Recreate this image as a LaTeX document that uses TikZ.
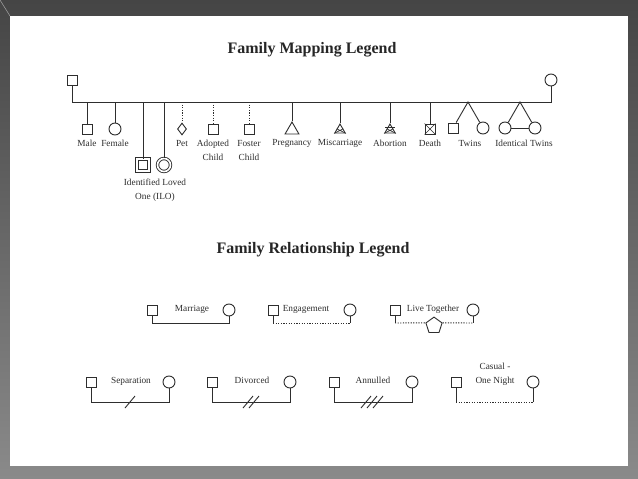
\documentclass[tikz,border=0pt]{standalone}
\usepackage{fontspec}
\setmainfont{Liberation Serif}
\usetikzlibrary{positioning,shapes.geometric,calc}

\definecolor{ink}{HTML}{2E2E2E}
\definecolor{frametop}{HTML}{454545}
\definecolor{framebot}{HTML}{8A8A8A}

\begin{document}
\begin{tikzpicture}[x=1pt, y=-1pt, color=ink, line width=0.9pt,
  male/.style={draw, rectangle, minimum size=10pt, inner sep=0pt},
  female/.style={draw, circle, minimum size=12pt, inner sep=0pt},
  tri/.style={draw, regular polygon, regular polygon sides=3, inner sep=0pt},
  lbl/.style={font=\fontsize{9.3}{14}\selectfont, align=center, inner sep=0pt},
  ttl/.style={text=black!85, font=\fontsize{16}{16}\selectfont\bfseries},
  dots/.style={dash pattern=on 1.2pt off 1.4pt}]
\useasboundingbox (0,0) rectangle (638,479);
\shade[top color=frametop, bottom color=framebot] (0,0) rectangle (638,479);
\draw[line width=0.5pt, gray!70] (0,0) -- (10,16);
\fill[white] (10,16) rectangle (628,466);

% family mapping legend
\node (title1) [ttl] at (312,50) {Family Mapping Legend};
\node (dad) [male] at (72,80) {};
\node (mom) [female] at (551,80) {};
\coordinate (bl) at (72,102);
\coordinate (br) at (551,102);
\coordinate (lab) at (0,143);
\draw (dad) -- (bl) -- (br) -- (mom);

\node (male) [male] at (87,129) {};
\node (female) [female] at (115,129) {};
\node (iloM) [male, double, double distance=1.6pt, minimum size=12pt] at (143,165) {};
\node (iloF) [female, double, double distance=1.6pt, minimum size=13pt] at (164,165) {};
\node (pet) [draw, diamond, minimum width=9pt, minimum height=12pt, inner sep=0pt] at (182,129) {};
\node (adopt) [male] at (213,129) {};
\node (foster) [male] at (249,129) {};
\node (preg) [tri, minimum size=16pt] at (292,130) {};
\node (misc) [tri, minimum size=12pt] at (340,130) {};
\node (abort) [tri, minimum size=12pt] at (390,130) {};
\node (death) [male] at (430,129) {};
\coordinate (tw) at (468,102);
\node (twM) [male] at (453,128) {};
\node (twF) [female] at (483,128) {};
\coordinate (id) at (520,102);
\node (idA) [female] at (505,128) {};
\node (idB) [female] at (535,128) {};

\draw (male |- bl) -- (male);
\draw (female |- bl) -- (female);
\draw (iloM |- bl) -- (iloM);
\draw (iloF |- bl) -- (iloF);
\draw[dots] (pet |- bl) -- (pet);
\draw[dots] (adopt |- bl) -- (adopt);
\draw[dots] (foster |- bl) -- (foster);
\draw (preg |- bl) -- (preg);
\draw (misc |- bl) -- (misc);
\draw (abort |- bl) -- (abort);
\draw (death |- bl) -- (death);
\draw (twM) -- (tw) -- (twF);
\draw (idA) -- (id) -- (idB);
\draw (idA) -- (idB);

% crosses
\draw[line width=0.6pt] (misc.corner 2) -- ($(misc.corner 1)!0.55!(misc.corner 3)$)
  (misc.corner 3) -- ($(misc.corner 1)!0.55!(misc.corner 2)$);
\draw[line width=0.6pt] (abort.corner 2) -- ($(abort.corner 1)!0.55!(abort.corner 3)$)
  (abort.corner 3) -- ($(abort.corner 1)!0.55!(abort.corner 2)$);
\draw[line width=0.6pt] ($(abort.corner 1)+(-5,4)$) -- ($(abort.corner 1)+(5,4)$);
\draw[line width=0.6pt] (death.north west) -- (death.south east)
  (death.north east) -- (death.south west);

\node (lmale) [lbl] at (male |- lab) {Male};
\node (lfemale) [lbl] at (female |- lab) {Female};
\node (lilo) [lbl] at (155,190) {Identified Loved\\One (ILO)};
\node (lpet) [lbl] at (pet |- lab) {Pet};
\node (ladopt) [lbl] at (213,150) {Adopted\\Child};
\node (lfoster) [lbl] at (249,150) {Foster\\Child};
\node (lpreg) [lbl] at (preg |- lab) {Pregnancy};
\node (lmisc) [lbl] at (misc |- lab) {Miscarriage};
\node (labort) [lbl] at (abort |- lab) {Abortion};
\node (ldeath) [lbl] at (death |- lab) {Death};
\node (ltw) [lbl] at (470,143) {Twins};
\node (lid) [lbl] at (524,143) {Identical Twins};

% family relationship legend
\node (title2) [ttl] at (313,250) {Family Relationship Legend};
\coordinate (r1) at (0,323);
\coordinate (r2) at (0,402);

\node (mar1) [male] at (152,310) {};
\node (mar2) [female] at (229,310) {};
\node (eng1) [male] at (273,310) {};
\node (eng2) [female] at (350,310) {};
\node (liv1) [male] at (395,310) {};
\node (liv2) [female] at (473,310) {};
\node (home) [draw, regular polygon, regular polygon sides=5, minimum size=17pt, inner sep=0pt] at (434,325.6) {};

\draw (mar1) -- (mar1 |- r1) -- (mar2 |- r1) -- (mar2);
\draw (eng1) -- (eng1 |- r1);
\draw (eng2) -- (eng2 |- r1);
\draw[dots] (eng1 |- r1) -- (eng2 |- r1);
\draw (liv1) -- (liv1 |- r1);
\draw (liv2) -- (liv2 |- r1);
\draw[dots] (liv1 |- r1) -- (home.corner 2);
\draw[dots] (home.corner 5) -- (liv2 |- r1);

\node (lmar) [lbl] at (192,309) {Marriage};
\node (leng) [lbl] at (306,309) {Engagement};
\node (lliv) [lbl] at (433,309) {Live Together};

\node (sep1) [male] at (91,382) {};
\node (sep2) [female] at (169,382) {};
\node (div1) [male] at (212,382) {};
\node (div2) [female] at (290,382) {};
\node (ann1) [male] at (334,382) {};
\node (ann2) [female] at (412,382) {};
\node (cas1) [male] at (456,382) {};
\node (cas2) [female] at (533,382) {};

\draw (sep1) -- (sep1 |- r2) -- (sep2 |- r2) -- (sep2);
\draw (div1) -- (div1 |- r2) -- (div2 |- r2) -- (div2);
\draw (ann1) -- (ann1 |- r2) -- (ann2 |- r2) -- (ann2);
\draw (cas1) -- (cas1 |- r2);
\draw (cas2) -- (cas2 |- r2);
\draw[dots] (cas1 |- r2) -- (cas2 |- r2);

% slashes
\draw (130,402) ++(-5,6) -- ++(10,-12);
\foreach \dx in {-3,3}
  \draw ($(251,402)+(\dx,0)$) ++(-5,6) -- ++(10,-12);
\foreach \dx in {-6,0,6}
  \draw ($(372,402)+(\dx,0)$) ++(-5,6) -- ++(10,-12);

\node (lsep) [lbl] at (131,381) {Separation};
\node (ldiv) [lbl] at (252,380) {Divorced};
\node (lann) [lbl] at (373,380) {Annulled};
\node (lcas) [lbl] at (495,374) {Casual -\\One Night};
\end{tikzpicture}
\end{document}
